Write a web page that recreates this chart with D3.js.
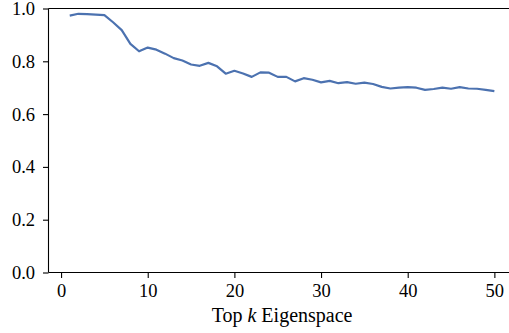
<!DOCTYPE html>
<html>
<head>
<meta charset="utf-8">
<script src="https://cdn.jsdelivr.net/npm/d3@7"></script>
<style>
  body { margin: 0; background: #fff; }
  text { font-family: "Liberation Serif", serif; fill: #000; }
</style>
</head>
<body>
<script>
// top-k eigenspace values
var ks = d3.range(1, 51);
var values = [0.973, 0.980, 0.979, 0.977, 0.975, 0.948, 0.918, 0.866, 0.838, 0.852,
              0.844, 0.829, 0.812, 0.803, 0.788, 0.783, 0.794, 0.781, 0.753, 0.764,
              0.754, 0.741, 0.758, 0.757, 0.741, 0.741, 0.724, 0.736, 0.730, 0.720,
              0.726, 0.717, 0.721, 0.715, 0.719, 0.714, 0.703, 0.697, 0.700, 0.702,
              0.700, 0.692, 0.695, 0.700, 0.696, 0.702, 0.697, 0.696, 0.692, 0.687];
var xTicks = [0, 10, 20, 30, 40, 50];
var yTicks = [0, 0.2, 0.4, 0.6, 0.8, 1.0];

// canvas resolution
var width = 509,
    height = 333;

var svg = d3.select("body").append("svg")
    .attr("width", width)
    .attr("height", height);

// plot area (right spine falls outside the crop)
var pLeft = 48.5, pRight = 515.6, pTop = 8.5, pBottom = 272.5;

var x = d3.scaleLinear().domain([-1.45, 52.45]).range([pLeft, pRight]);
var y = d3.scaleLinear().domain([0, 1]).range([pBottom, pTop]);

var line = d3.line()
    .x(function(d, i) { return x(ks[i]); })
    .y(function(d) { return y(d); });

svg.append("path")
    .datum(values)
    .attr("fill", "none")
    .attr("stroke", "#4c72b0")
    .attr("stroke-width", 2.2)
    .attr("stroke-linejoin", "round")
    .attr("d", line);

// axes
var xAxis = svg.append("g")
    .attr("transform", "translate(0," + pBottom + ")")
    .call(d3.axisBottom(x).tickValues(xTicks).tickSize(5.5).tickPadding(6)
        .tickFormat(d3.format("d")));
var yAxis = svg.append("g")
    .attr("transform", "translate(" + pLeft + ",0)")
    .call(d3.axisLeft(y).tickValues(yTicks).tickSize(5.5).tickPadding(8)
        .tickFormat(d3.format(".1f")));

[xAxis, yAxis].forEach(function(a) {
  a.select(".domain").remove();
  a.selectAll("line").attr("stroke", "#000").attr("stroke-width", 1.1);
  a.selectAll("text").style("font-size", "18.5px").style("font-family", "'Liberation Serif', serif");
});

// spines
svg.append("line").attr("x1", pLeft).attr("x2", pLeft).attr("y1", pTop).attr("y2", pBottom)
    .attr("stroke", "#000").attr("stroke-width", 1.1);
svg.append("line").attr("x1", pLeft).attr("x2", width).attr("y1", pBottom).attr("y2", pBottom)
    .attr("stroke", "#000").attr("stroke-width", 1.1);
svg.append("line").attr("x1", pLeft).attr("x2", width).attr("y1", pTop).attr("y2", pTop)
    .attr("stroke", "#000").attr("stroke-width", 1.1);

// x label
var lab = svg.append("text")
    .attr("x", (pLeft + pRight) / 2)
    .attr("y", 322)
    .attr("text-anchor", "middle")
    .style("font-size", "20px");
lab.append("tspan").text("Top ");
lab.append("tspan").style("font-style", "italic").text("k");
lab.append("tspan").text(" Eigenspace");
</script>
</body>
</html>
